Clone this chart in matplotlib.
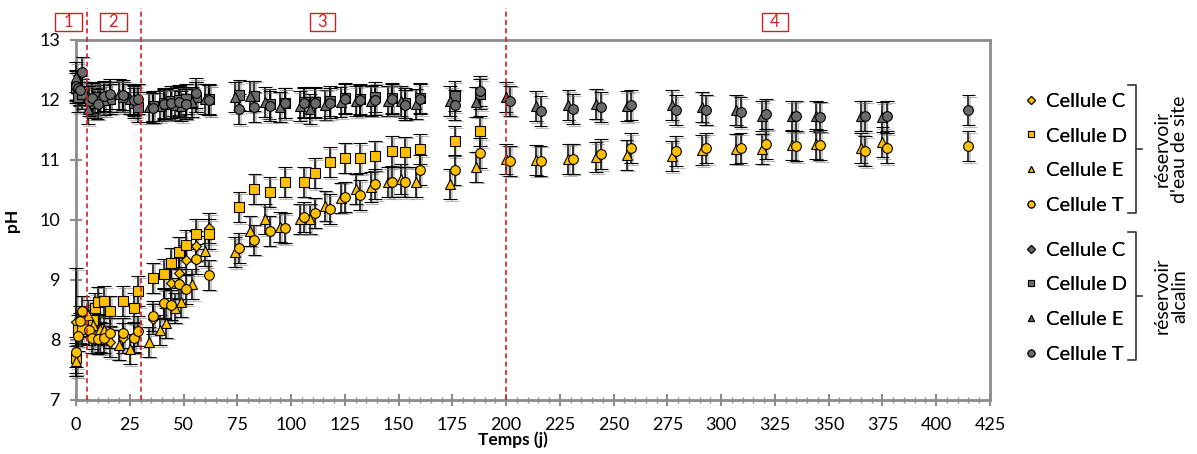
import numpy as np
import matplotlib
matplotlib.use("Agg")
import matplotlib.pyplot as plt
import matplotlib.transforms as mtransforms
import matplotlib.patheffects as pe
from matplotlib.lines import Line2D
from matplotlib.patches import Rectangle

plt.rcParams['font.family'] = ['Lato', 'DejaVu Sans']

# ---- data : réservoir d'eau de site (jaune) ----
t_C = [0, 2, 5, 8, 11, 16, 22, 27, 36, 41, 44, 48, 51, 56, 62]
ph_C = [8.30, 8.20, 8.30, 8.10, 8.05, 7.96, 8.04, 8.05, 8.35, 8.60, 8.95, 9.11, 9.34, 9.57, 9.86]
err_C = [0.90, 0.25, 0.25, 0.25, 0.25, 0.25, 0.25, 0.25, 0.25, 0.25, 0.25, 0.25, 0.25, 0.25, 0.25]

t_D = [0, 1, 3, 8, 9, 10, 13, 16, 22, 27, 29, 36, 41, 44, 48, 51, 56, 62, 76, 83, 90, 97,
       106, 111, 118, 125, 132, 139, 147, 153, 160, 176, 188]
ph_D = [7.70, 8.16, 8.19, 8.33, 8.53, 8.64, 8.65, 8.49, 8.65, 8.53, 8.81, 9.04, 9.10, 9.29,
        9.47, 9.58, 9.76, 9.76, 10.21, 10.52, 10.46, 10.63, 10.64, 10.78, 10.96, 11.04,
        11.03, 11.07, 11.15, 11.14, 11.18, 11.31, 11.48]

t_E = [0, 5.5, 8, 11, 13, 20, 25, 34, 39, 42, 46, 49, 54, 60, 74, 81, 88, 95, 104, 109,
       116, 123, 130, 137, 145, 151, 158, 174, 186, 200, 214, 229, 242, 256, 277, 291,
       307, 319, 333, 344, 365, 375]
ph_E = [7.65, 8.41, 8.25, 8.18, 8.16, 7.92, 7.85, 7.97, 8.16, 8.29, 8.54, 8.64, 8.93, 9.48,
        9.46, 9.82, 10.01, 9.88, 10.02, 10.02, 10.24, 10.37, 10.52, 10.55, 10.63, 10.68,
        10.63, 10.60, 10.89, 11.01, 11.00, 11.01, 11.05, 11.09, 11.06, 11.16, 11.19, 11.19,
        11.25, 11.26, 11.20, 11.30]

t_T = [0, 1, 2, 3, 6, 7.5, 10, 13, 16, 22, 27, 29, 36, 41, 44, 48, 51, 56, 62, 76, 83, 90,
       97, 106, 111, 118, 125, 132, 139, 147, 153, 160, 176, 188, 202, 216, 231, 244, 258,
       279, 293, 309, 321, 335, 346, 367, 377, 415]
ph_T = [7.80, 8.07, 8.31, 8.49, 8.16, 8.04, 8.02, 8.03, 8.12, 8.12, 8.04, 8.15, 8.40, 8.61,
        8.59, 8.94, 8.85, 9.35, 9.09, 9.53, 9.67, 9.82, 9.86, 10.05, 10.12, 10.18, 10.39,
        10.41, 10.60, 10.63, 10.63, 10.83, 10.84, 11.11, 10.99, 10.99, 11.02, 11.10, 11.20,
        11.15, 11.20, 11.20, 11.26, 11.23, 11.25, 11.15, 11.20, 11.23]

# ---- data : réservoir alcalin (gris) ----
ph_C_alc = [12.25, 12.15, 12.05, 11.95, 12.00, 12.05, 12.05, 11.98, 11.90, 11.92, 11.95,
            11.98, 11.95, 12.05, 12.00]
ph_D_alc = [12.20, 12.05, 12.10, 12.00, 11.95, 12.05, 12.00, 12.02, 12.05, 11.95, 11.88,
            11.90, 11.95, 11.98, 12.00, 12.02, 12.05, 12.02, 12.09, 12.07, 11.93, 11.95,
            11.97, 11.97, 11.98, 12.04, 12.02, 12.05, 12.03, 11.95, 12.04, 12.06, 12.10]
ph_E_alc = [12.38, 11.85, 12.00, 12.05, 12.00, 12.10, 12.02, 11.88, 11.90, 11.93, 11.92,
            11.90, 11.97, 12.02, 12.05, 12.06, 11.96, 11.89, 11.90, 11.85, 11.92, 11.96,
            11.98, 11.99, 11.99, 11.99, 11.94, 11.98, 11.97, 12.05, 11.90, 11.91, 11.94,
            11.90, 11.91, 11.89, 11.84, 11.73, 11.73, 11.73, 11.73, 11.71]
ph_T_alc = [12.24, 12.20, 12.17, 12.47, 11.99, 12.03, 11.94, 12.06, 12.10, 12.08, 12.00,
            12.02, 11.87, 11.93, 11.95, 11.97, 11.94, 12.11, 12.00, 11.85, 11.89, 11.90,
            11.95, 11.95, 11.95, 11.95, 12.01, 12.00, 12.00, 12.01, 11.92, 12.01, 11.92,
            12.15, 11.99, 11.81, 11.85, 11.88, 11.91, 11.83, 11.84, 11.80, 11.77, 11.74,
            11.72, 11.73, 11.73, 11.83]

ERR = 0.25
phase_lines = [5, 30, 200]
phase_labels = ['1', '2', '3', '4']
phase_boxes = [(-9.9, 2.7), (11.0, 23.6), (108.7, 120.3), (319.0, 331.0)]

YELLOW = '#FFC000'
GREY = '#6A6A6A'
RED = '#D42020'
AXIS = '#8C8C8C'

fig = plt.figure(figsize=(11.97, 4.54), dpi=100)
ax = fig.add_axes([76 / 1197, 1 - 400 / 454, 914 / 1197, 360 / 454])

shadow = [pe.SimpleLineShadow(offset=(1.2, -1.2), shadow_color='#777777', alpha=0.5), pe.Normal()]


def draw(t, ph, err, marker, color, ms):
    cont = ax.errorbar(t, ph, yerr=err, fmt=marker, ms=ms, mfc=color, mec='black', mew=0.8,
                       ecolor='black', elinewidth=1.1, capsize=5, capthick=1.1, zorder=3)
    for art in cont.get_children():
        art.set_clip_on(False)
    for art in cont.lines[1] + cont.lines[2]:
        art.set_path_effects(shadow)


draw(t_C, ph_C_alc, ERR, 'D', GREY, 5.5)
draw(t_D, ph_D_alc, ERR, 's', GREY, 6.5)
draw(t_E, ph_E_alc, ERR, '^', GREY, 7)
draw(t_T, ph_T_alc, ERR, 'o', GREY, 7)
draw(t_C, ph_C, err_C, 'D', YELLOW, 5.5)
draw(t_D, ph_D, ERR, 's', YELLOW, 6.5)
draw(t_E, ph_E, ERR, '^', YELLOW, 7)
draw(t_T, ph_T, ERR, 'o', YELLOW, 7)

ax.set_xlim(0, 425)
ax.set_ylim(7, 13)
ax.set_xticks(np.arange(0, 426, 25))
ax.set_xticks(np.arange(0, 426, 5), minor=True)
ax.set_yticks(np.arange(7, 14, 1))
ax.tick_params(axis='both', which='major', direction='inout', length=8, width=1.5,
               color=AXIS, labelsize=13, pad=7)
ax.tick_params(axis='x', which='major', pad=8)
ax.tick_params(axis='x', which='minor', direction='inout', length=4, width=1, color=AXIS)
for sp in ax.spines.values():
    sp.set_color(AXIS)
    sp.set_linewidth(2)
ax.set_xlabel('Temps (j)', fontsize=12.5, fontweight='bold', labelpad=-1, x=0.478)
ax.set_ylabel('pH', fontsize=12.5, fontweight='bold', labelpad=14)

# phases
for x in phase_lines:
    ax.axvline(x, ymin=0, ymax=1.09, color=RED, ls=(0, (3, 2)), lw=1.2, clip_on=False, zorder=4)
trans = mtransforms.blended_transform_factory(ax.transData, ax.transAxes)
for lab, (x0, x1) in zip(phase_labels, phase_boxes):
    ax.add_patch(Rectangle((x0, 1.025), x1 - x0, 0.05, transform=trans, fill=False,
                           ec=RED, lw=1, clip_on=False))
    ax.text((x0 + x1) / 2, 1.05, lab, transform=trans, ha='center', va='center',
            color=RED, fontsize=12)

# legends
labels = ['Cellule C', 'Cellule D', 'Cellule E', 'Cellule T']
mk = ['D', 's', '^', 'o']
ms_leg = [4, 5, 5, 5]
for color, top in [(YELLOW, 0.796), (GREY, 0.468)]:
    handles = [Line2D([], [], ls='none', marker=m, ms=s, mfc=color, mec='black', mew=0.8)
               for m, s in zip(mk, ms_leg)]
    leg = fig.legend(handles, labels, loc='upper left', bbox_to_anchor=(0.856, top),
                     frameon=False, fontsize=14.5, handlelength=0.6, handletextpad=0.45,
                     labelspacing=0.88, borderpad=0, borderaxespad=0)
    fig.add_artist(leg)

# brackets
W, H = 1197, 454
for y0, y1, txt in [(85, 213, "réservoir\nd'eau de site"), (232, 360, 'réservoir\nalcalin')]:
    xs = [1128 / W, 1136 / W, 1136 / W, 1128 / W]
    ys = [1 - y0 / H, 1 - y0 / H, 1 - y1 / H, 1 - y1 / H]
    fig.add_artist(Line2D(xs, ys, color='#333333', lw=1.2))
    ym = 1 - (y0 + y1) / 2 / H
    fig.add_artist(Line2D([1136 / W, 1142 / W], [ym, ym], color='#333333', lw=1.2))
    fig.text(1171 / W, ym, txt, rotation=90, ha='center', va='center', fontsize=14,
             multialignment='center', linespacing=1.0)

fig.savefig('out.png', dpi=100)
